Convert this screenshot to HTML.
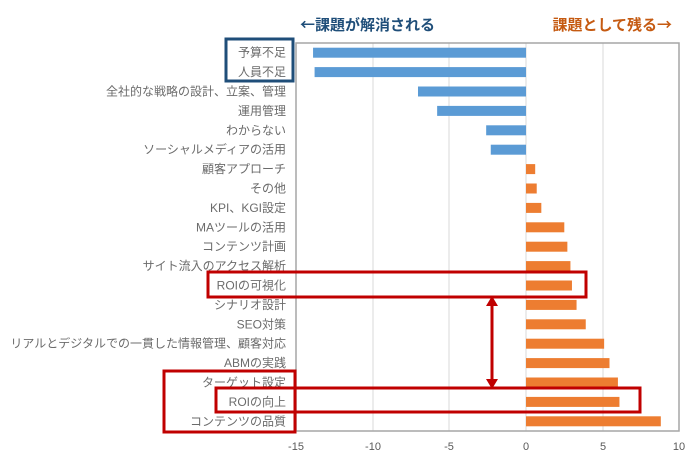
<!DOCTYPE html>
<html><head><meta charset="utf-8"><style>
body{margin:0;background:#fff;width:698px;height:458px;overflow:hidden;font-family:"Liberation Sans","Noto Sans CJK JP",sans-serif;}
</style></head><body>
<svg width="698" height="458" xmlns="http://www.w3.org/2000/svg" font-family="Liberation Sans, Noto Sans CJK JP, sans-serif">
<text x="300" y="30" font-size="15" font-weight="bold" fill="#1f4e79" font-family="Noto Sans CJK JP, sans-serif">←課題が解消される</text>
<text x="672" y="30" font-size="15" font-weight="bold" fill="#c55a11" text-anchor="end" font-family="Noto Sans CJK JP, sans-serif">課題として残る→</text>
<g stroke="#d9d9d9" stroke-width="1">
<line x1="373" y1="43" x2="373" y2="431"/><line x1="449" y1="43" x2="449" y2="431"/>
<line x1="526" y1="43" x2="526" y2="431"/><line x1="603" y1="43" x2="603" y2="431"/>
</g>
<rect x="296" y="43" width="383" height="388" fill="none" stroke="#a6a6a6" stroke-width="1.5"/>
<g id="bars"></g>
<g id="labels" font-size="12" fill="#6b6b6b" text-anchor="end"></g>
<g font-size="11" fill="#595959" text-anchor="middle">
<text x="296" y="450">-15</text><text x="373" y="450">-10</text><text x="449" y="450">-5</text>
<text x="526" y="450">0</text><text x="603" y="450">5</text><text x="679" y="450">10</text>
</g>
<rect x="226" y="39" width="67" height="42" fill="none" stroke="#1f4e79" stroke-width="3"/>
<g fill="none" stroke="#c00000" stroke-width="3">
<rect x="208" y="272" width="378" height="25"/>
<rect x="216" y="388" width="424" height="24"/>
<rect x="164" y="371" width="131" height="61"/>
</g>
<line x1="492" y1="304" x2="492" y2="381" stroke="#c00000" stroke-width="3"/>
<polygon points="492,296 486,306 498,306" fill="#c00000"/>
<polygon points="492,389 486,379 498,379" fill="#c00000"/>
</svg>
<script>
var d=[["予算不足",-13.9],["人員不足",-13.8],["全社的な戦略の設計、立案、管理",-7.05],["運用管理",-5.8],["わからない",-2.6],["ソーシャルメディアの活用",-2.3],["顧客アプローチ",0.6],["その他",0.7],["KPI、KGI設定",1.0],["MAツールの活用",2.5],["コンテンツ計画",2.7],["サイト流入のアクセス解析",2.9],["ROIの可視化",3.0],["シナリオ設計",3.3],["SEO対策",3.9],["リアルとデジタルでの一貫した情報管理、顧客対応",5.1],["ABMの実践",5.45],["ターゲット設定",6.0],["ROIの向上",6.1],["コンテンツの品質",8.8]];
var ns="http://www.w3.org/2000/svg",b=document.getElementById("bars"),l=document.getElementById("labels");
d.forEach(function(r,i){var cy=52.7+i*19.4,v=r[1]*15.32;
var e=document.createElementNS(ns,"rect");e.setAttribute("x",v<0?526+v:526);e.setAttribute("width",Math.abs(v));e.setAttribute("y",cy-5);e.setAttribute("height",10);e.setAttribute("fill",v<0?"#5b9bd5":"#ed7d31");b.appendChild(e);
var t=document.createElementNS(ns,"text");t.setAttribute("x",286);t.setAttribute("y",cy+4);t.textContent=r[0];l.appendChild(t);});
</script>
</body></html>
